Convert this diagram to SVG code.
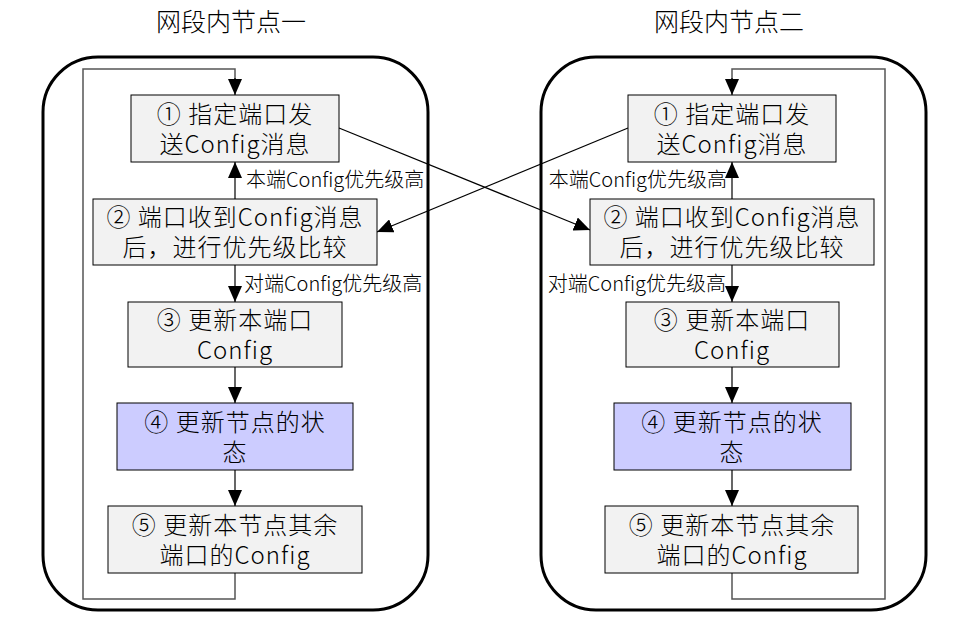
<svg xmlns="http://www.w3.org/2000/svg" width="967" height="624" viewBox="0 0 967 624">
<defs>
<marker id="ah" viewBox="0 0 16 14" refX="16" refY="7" markerWidth="16" markerHeight="14" markerUnits="userSpaceOnUse" orient="auto">
<path d="M0,0 L16,7 L0,14 Z" fill="#000"/>
</marker>
</defs>
<style>
.panel{fill:#fff;stroke:#000;stroke-width:3}
.box{fill:#f2f2f2;stroke:#000;stroke-width:1}
.hl{fill:#ccccff;stroke:#000;stroke-width:1}
.t{font-family:"Noto Sans CJK SC","Microsoft YaHei",sans-serif;font-size:24px;font-weight:300;letter-spacing:1px;fill:#000;text-anchor:middle}
.title{font-family:"Noto Sans CJK SC",sans-serif;font-size:25px;font-weight:300;fill:#000;text-anchor:middle}
.lab{font-family:"Noto Sans CJK SC",sans-serif;font-size:20px;font-weight:300;fill:#000}
.ar{fill:none;stroke:#000;stroke-width:1.2;marker-end:url(#ah)}
.loop{fill:none;stroke:#555;stroke-width:1.5}
</style>
<rect width="967" height="624" fill="#fff"/>
<g id="panel1">
<rect class="panel" x="43" y="57" width="385" height="553" rx="55" ry="55"/>
<text class="title" x="231" y="31">网段内节点一</text>
</g>
<g id="panel2">
<rect class="panel" x="541" y="57" width="385" height="553" rx="55" ry="55"/>
<text class="title" x="729" y="31">网段内节点二</text>
</g>
<g id="connectors">
<path class="loop" d="M235,573 V599 H83 V69 H235 V80"/>
<path class="ar" d="M235,78 V95"/>
<path class="ar" d="M235,199 V162"/>
<path class="ar" d="M235,265 V302"/>
<path class="ar" d="M235,367 V403"/>
<path class="ar" d="M235,470 V506"/>
<path class="loop" d="M732,573 V599 H885 V69 H732 V80"/>
<path class="ar" d="M732,78 V95"/>
<path class="ar" d="M732,199 V162"/>
<path class="ar" d="M732,265 V302"/>
<path class="ar" d="M732,367 V403"/>
<path class="ar" d="M732,470 V506"/>
<path class="ar" d="M339,128 L590,230"/>
<path class="ar" d="M628,128 L377,232"/>
<text class="lab" x="246" y="187">本端Config优先级高</text>
<text class="lab" x="244" y="291">对端Config优先级高</text>
<text class="lab" x="727" y="187" text-anchor="end">本端Config优先级高</text>
<text class="lab" x="726" y="291" text-anchor="end">对端Config优先级高</text>
</g>
<g id="n1a">
<rect class="box" x="131" y="95" width="208" height="67"/>
<text class="t" x="235" y="123">① 指定端口发</text>
<text class="t" x="235" y="153">送Config消息</text>
</g>
<g id="n2a">
<rect class="box" x="93" y="199" width="284" height="66"/>
<text class="t" x="235" y="226">② 端口收到Config消息</text>
<text class="t" x="235" y="256">后，进行优先级比较</text>
</g>
<g id="n3a">
<rect class="box" x="128" y="302" width="214" height="65"/>
<text class="t" x="235" y="329">③ 更新本端口</text>
<text class="t" x="235" y="359">Config</text>
</g>
<g id="n4a">
<rect class="hl" x="117" y="403" width="236" height="67"/>
<text class="t" x="235" y="431">④ 更新节点的状</text>
<text class="t" x="235" y="461">态</text>
</g>
<g id="n5a">
<rect class="box" x="108" y="506" width="254" height="67"/>
<text class="t" x="235" y="534">⑤ 更新本节点其余</text>
<text class="t" x="235" y="564">端口的Config</text>
</g>
<g id="n1b">
<rect class="box" x="628" y="95" width="208" height="67"/>
<text class="t" x="732" y="123">① 指定端口发</text>
<text class="t" x="732" y="153">送Config消息</text>
</g>
<g id="n2b">
<rect class="box" x="590" y="199" width="284" height="66"/>
<text class="t" x="732" y="226">② 端口收到Config消息</text>
<text class="t" x="732" y="256">后，进行优先级比较</text>
</g>
<g id="n3b">
<rect class="box" x="626" y="302" width="213" height="65"/>
<text class="t" x="732" y="329">③ 更新本端口</text>
<text class="t" x="732" y="359">Config</text>
</g>
<g id="n4b">
<rect class="hl" x="614" y="403" width="237" height="67"/>
<text class="t" x="732" y="431">④ 更新节点的状</text>
<text class="t" x="732" y="461">态</text>
</g>
<g id="n5b">
<rect class="box" x="605" y="506" width="253" height="67"/>
<text class="t" x="732" y="534">⑤ 更新本节点其余</text>
<text class="t" x="732" y="564">端口的Config</text>
</g>
</svg>
